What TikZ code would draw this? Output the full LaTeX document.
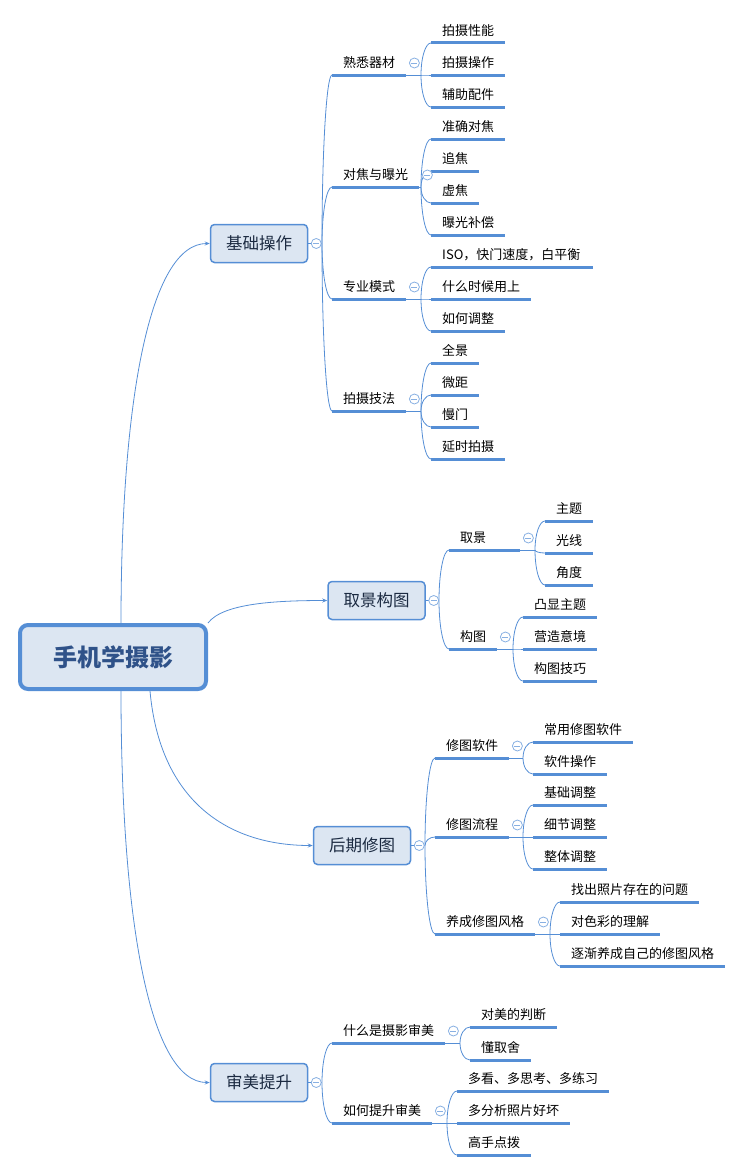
\documentclass[tikz,border=0pt]{standalone}
\usepackage{fontspec}
\newfontfamily\cjk{Noto Sans CJK SC}
\usetikzlibrary{arrows.meta,calc}

\definecolor{mapblue}{HTML}{558ED5}
\definecolor{boxfill}{HTML}{DCE6F2}
\definecolor{roottext}{HTML}{2F5289}
\definecolor{topictext}{HTML}{1B2A41}

% junction -> list of child nodes
\newcommand\forkto[2]{%
  \foreach \c in {#2}
    \draw[link] (#1) .. controls ($(#1)!0.55!(#1 |- \c.south west)$)
      and ($(\c.south west)!0.55!(#1 |- \c.south west)$) .. (\c.south west);}

\begin{document}
\begin{tikzpicture}[
  x=1pt, y=-1pt,
  >={Stealth[length=5pt,width=4pt]},
  root/.style={draw=mapblue,line width=4pt,rounded corners=8pt,fill=boxfill,
    minimum width=186pt,minimum height=64pt,text=roottext,
    font=\cjk\fontsize{24}{28}\selectfont\bfseries},
  topic/.style={draw=mapblue,line width=1.5pt,rounded corners=4pt,fill=boxfill,
    minimum width=97pt,minimum height=38pt,text=topictext,
    font=\cjk\fontsize{16.5}{19}\selectfont},
  uline/.style={draw=mapblue,line width=3pt},
  sub/.style={anchor=south west,inner xsep=11pt,inner ysep=4pt,
    text height=10pt,text depth=3pt,font=\cjk\fontsize{13}{15}\selectfont,
    append after command={(\tikzlastnode.south west) edge[uline] (\tikzlastnode.south east)}},
  leaf/.style={sub},
  link/.style={draw=mapblue,line width=0.8pt},
  fold/.style={circle,draw=mapblue!70,fill=white,line width=0.8pt,
    minimum size=10pt,inner sep=0pt,
    path picture={\draw[mapblue!70,line width=0.8pt]
      ([xshift=-3pt]path picture bounding box.center) --
      ([xshift=3pt]path picture bounding box.center);}}
]
  \useasboundingbox (0,0) rectangle (743,1172);

  \node[root] (root) at (113,657) {手机学摄影};

  % 基础操作
  \node[topic] (basic) at (259,243.5) {基础操作};
  \node[sub] (gear)  at (332,75)  {熟悉器材};
  \node[sub] (focus) at (332,187) {对焦与曝光};
  \node[sub] (pro)   at (332,299) {专业模式};
  \node[sub] (skill) at (332,411) {拍摄技法};
  \node[leaf] (gear1)  at (431,43)  {拍摄性能};
  \node[leaf] (gear2)  at (431,75)  {拍摄操作};
  \node[leaf] (gear3)  at (431,107) {辅助配件};
  \node[leaf] (focus1) at (431,139) {准确对焦};
  \node[leaf] (focus2) at (431,171) {追焦};
  \node[leaf] (focus3) at (431,203) {虚焦};
  \node[leaf] (focus4) at (431,235) {曝光补偿};
  \node[leaf,text width=140pt] (pro1) at (431,267) {ISO，快门速度，白平衡};
  \node[leaf] (pro2)   at (431,299) {什么时候用上};
  \node[leaf] (pro3)   at (431,331) {如何调整};
  \node[leaf] (skill1) at (431,363) {全景};
  \node[leaf] (skill2) at (431,395) {微距};
  \node[leaf] (skill3) at (431,427) {慢门};
  \node[leaf] (skill4) at (431,459) {延时拍摄};

  \coordinate (basic-j) at (322,243.5);
  \coordinate (gear-j)  at (421,75);
  \coordinate (focus-j) at (421,187);
  \coordinate (pro-j)   at (421,299);
  \coordinate (skill-j) at (421,411);
  \draw[link] (basic.east) -- (basic-j);
  \forkto{basic-j}{gear,focus,pro,skill}
  \draw[link] (gear.south east) -- (gear-j);
  \forkto{gear-j}{gear1,gear2,gear3}
  \draw[link] (focus.south east) -- (focus-j);
  \forkto{focus-j}{focus1,focus2,focus3,focus4}
  \draw[link] (pro.south east) -- (pro-j);
  \forkto{pro-j}{pro1,pro2,pro3}
  \draw[link] (skill.south east) -- (skill-j);
  \forkto{skill-j}{skill1,skill2,skill3,skill4}
  \node[fold] (basic-f) at ([xshift=8]basic.east) {};
  \node[fold] (gear-f)  at ([shift={(8,-12)}]gear.south east) {};
  \node[fold] (focus-f) at ([shift={(8,-12)}]focus.south east) {};
  \node[fold] (pro-f)   at ([shift={(8,-12)}]pro.south east) {};
  \node[fold] (skill-f) at ([shift={(8,-12)}]skill.south east) {};

  % 取景构图
  \node[topic] (frame) at (376.5,600.5) {取景构图};
  \node[sub,text width=49pt] (view) at (449,550) {取景};
  \node[sub] (comp) at (449,649) {构图};
  \node[leaf] (view1) at (545,521) {主题};
  \node[leaf] (view2) at (545,553) {光线};
  \node[leaf] (view3) at (545,585) {角度};
  \node[leaf] (comp1) at (523,617) {凸显主题};
  \node[leaf] (comp2) at (523,649) {营造意境};
  \node[leaf] (comp3) at (523,681) {构图技巧};

  \coordinate (frame-j) at (439,600.5);
  \coordinate (view-j)  at (535,550);
  \coordinate (comp-j)  at (513,649);
  \draw[link] (frame.east) -- (frame-j);
  \forkto{frame-j}{view,comp}
  \draw[link] (view.south east) -- (view-j);
  \forkto{view-j}{view1,view2,view3}
  \draw[link] (comp.south east) -- (comp-j);
  \forkto{comp-j}{comp1,comp2,comp3}
  \node[fold] (frame-f) at ([xshift=8]frame.east) {};
  \node[fold] (view-f)  at ([shift={(8,-12)}]view.south east) {};
  \node[fold] (comp-f)  at ([shift={(8,-12)}]comp.south east) {};

  % 后期修图
  \node[topic] (post) at (362,845.5) {后期修图};
  \node[sub] (soft)  at (435,758) {修图软件};
  \node[sub] (flow)  at (435,837) {修图流程};
  \node[sub] (habit) at (435,934) {养成修图风格};
  \node[leaf] (soft1)  at (533,742) {常用修图软件};
  \node[leaf] (soft2)  at (533,774) {软件操作};
  \node[leaf] (flow1)  at (533,805) {基础调整};
  \node[leaf] (flow2)  at (533,837) {细节调整};
  \node[leaf] (flow3)  at (533,869) {整体调整};
  \node[leaf] (habit1) at (560,902) {找出照片存在的问题};
  \node[leaf] (habit2) at (560,934) {对色彩的理解};
  \node[leaf] (habit3) at (560,966) {逐渐养成自己的修图风格};

  \coordinate (post-j)  at (425,845.5);
  \coordinate (soft-j)  at (523,758);
  \coordinate (flow-j)  at (523,837);
  \coordinate (habit-j) at (550,934);
  \draw[link] (post.east) -- (post-j);
  \forkto{post-j}{soft,flow,habit}
  \draw[link] (soft.south east) -- (soft-j);
  \forkto{soft-j}{soft1,soft2}
  \draw[link] (flow.south east) -- (flow-j);
  \forkto{flow-j}{flow1,flow2,flow3}
  \draw[link] (habit.south east) -- (habit-j);
  \forkto{habit-j}{habit1,habit2,habit3}
  \node[fold] (post-f)  at ([xshift=8]post.east) {};
  \node[fold] (soft-f)  at ([shift={(8,-12)}]soft.south east) {};
  \node[fold] (flow-f)  at ([shift={(8,-12)}]flow.south east) {};
  \node[fold] (habit-f) at ([shift={(8,-12)}]habit.south east) {};

  % 审美提升
  \node[topic] (taste) at (259,1082.5) {审美提升};
  \node[sub] (what) at (332,1043) {什么是摄影审美};
  \node[sub] (how)  at (332,1123) {如何提升审美};
  \node[leaf] (what1) at (470,1027) {对美的判断};
  \node[leaf] (what2) at (470,1060) {懂取舍};
  \node[leaf] (how1)  at (457,1091) {多看、多思考、多练习};
  \node[leaf] (how2)  at (457,1123) {多分析照片好坏};
  \node[leaf] (how3)  at (457,1155) {高手点拨};

  \coordinate (taste-j) at (322,1082.5);
  \coordinate (what-j)  at (460,1043);
  \coordinate (how-j)   at (447,1123);
  \draw[link] (taste.east) -- (taste-j);
  \forkto{taste-j}{what,how}
  \draw[link] (what.south east) -- (what-j);
  \forkto{what-j}{what1,what2}
  \draw[link] (how.south east) -- (how-j);
  \forkto{how-j}{how1,how2,how3}
  \node[fold] (taste-f) at ([xshift=8]taste.east) {};
  \node[fold] (what-f)  at ([shift={(8,-12)}]what.south east) {};
  \node[fold] (how-f)   at ([shift={(8,-12)}]how.south east) {};

  % root to main topics
  \draw[link,->] ([xshift=8]root.north) .. controls +(0,-223) and +(-60,0) .. (basic.west);
  \draw[link,->] (root.north east) .. controls +(15,-20) and +(-50,0) .. (frame.west);
  \draw[link,->] ([xshift=37]root.south) .. controls +(10,110) and +(-85,0) .. (post.west);
  \draw[link,->] ([xshift=8]root.south) .. controls +(0,229) and +(-60,0) .. (taste.west);
\end{tikzpicture}
\end{document}
